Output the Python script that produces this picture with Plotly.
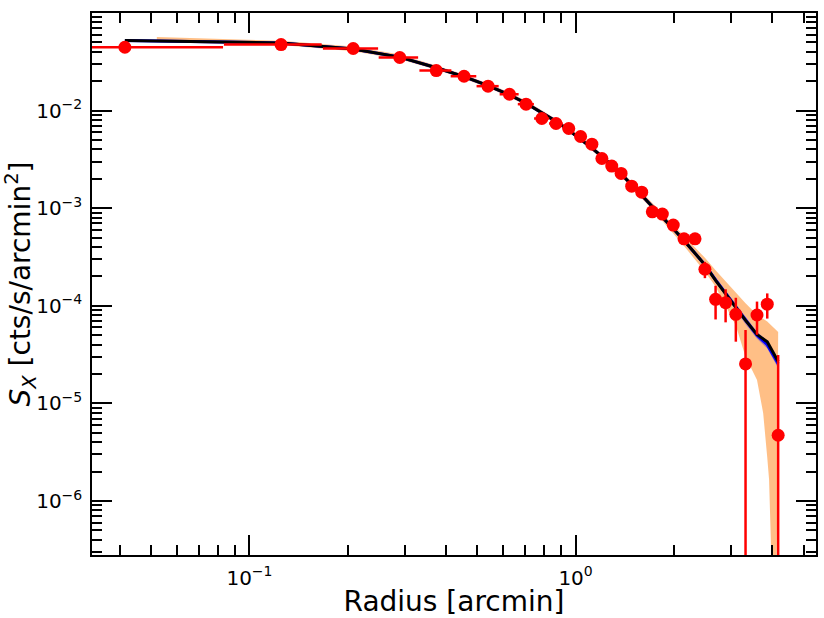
import numpy as np
import plotly.graph_objects as go

# ---------------- data ----------------
radius = [0.0415, 0.125, 0.208, 0.289, 0.374, 0.455, 0.539, 0.627, 0.705, 0.788,
          0.871, 0.953, 1.036, 1.122, 1.204, 1.291, 1.379, 1.486, 1.595, 1.719,
          1.845, 1.993, 2.15, 2.324, 2.492, 2.687, 2.884, 3.10, 3.32, 3.60, 3.87, 4.18]
sx = [0.0446, 0.0475, 0.0433, 0.0350, 0.0257, 0.0225, 0.0178, 0.0147, 0.01164, 0.0083,
      0.00738, 0.00656, 0.00543, 0.00453, 0.00323, 0.00270, 0.00227, 0.00168, 0.00146, 0.000919,
      0.000871, 0.000672, 0.000486, 0.000486, 0.000237, 0.0001165, 0.0001077, 8.19e-5, 2.54e-5,
      8.05e-5, 1.04e-4, 4.72e-6]
sx_err = [0.0010, 0.0009, 0.0008, 0.0007, 0.0006, 0.0005, 0.0004, 0.00035, 0.0003, 0.00025,
          0.00022, 0.0002, 0.00018, 0.00016, 0.00014, 0.00012, 0.00011, 9e-5, 8e-5, 7e-5,
          6.5e-5, 6e-5, 5.5e-5, 5e-5, 4.5e-5, 4.4e-5, 4.0e-5, 3.9e-5, 3.1e-5, 3.0e-5, 3.0e-5, 2.66e-5]
r_err_minus = [0.0413, 0.0415, 0.040, 0.040, 0.042, 0.041, 0.042, 0.042, 0.040, 0.042,
               0.042, 0.041, 0.042, 0.043, 0.041, 0.044, 0.044, 0.053, 0.055, 0.062,
               0.063, 0.074, 0.078, 0.085, 0.085, 0.097, 0.100, 0.110, 0.110, 0.140, 0.135, 0.155]
r_err_plus = [0.0415, 0.0415, 0.040, 0.040, 0.042, 0.041, 0.042, 0.042, 0.040, 0.042,
              0.042, 0.041, 0.042, 0.043, 0.041, 0.044, 0.044, 0.053, 0.055, 0.062,
              0.063, 0.074, 0.078, 0.085, 0.085, 0.097, 0.100, 0.110, 0.110, 0.140, 0.135, 0.155]

# best-fit model (black) and alternative model (blue)
model = [0.0522, 0.0493, 0.0427, 0.0353, 0.0275, 0.0223, 0.0180, 0.0145, 0.0119, 0.00955,
         0.00776, 0.00631, 0.00513, 0.00412, 0.00339, 0.00275, 0.00224, 0.00174, 0.00136, 0.00105,
         0.000813, 0.000617, 0.000468, 0.000347, 0.000263, 0.000182, 0.000132, 9.5e-5, 7.1e-5,
         5.1e-5, 4.27e-5, 2.69e-5]
model_blue = [0.0522, 0.0493, 0.0427, 0.0353, 0.0275, 0.0223, 0.0180, 0.0145, 0.0119, 0.00955,
              0.00776, 0.00631, 0.00513, 0.00412, 0.00339, 0.00275, 0.00224, 0.00174, 0.00136, 0.00105,
              0.000813, 0.000617, 0.000468, 0.000347, 0.000263, 0.000184, 0.000134, 9.6e-5, 7.0e-5,
              5.0e-5, 4.0e-5, 2.55e-5]
blue_dex = [0.012, 0.012, 0.012, 0.012, 0.012, 0.012, 0.012, 0.012, 0.012, 0.012,
            0.012, 0.012, 0.012, 0.012, 0.012, 0.013, 0.013, 0.014, 0.015, 0.016,
            0.017, 0.018, 0.020, 0.022, 0.024, 0.026, 0.028, 0.030, 0.033, 0.036, 0.040, 0.045]

# orange uncertainty envelope
band_r_up = [0.052] + radius[1:]
band_up = [0.0568, 0.0520, 0.0455, 0.0375, 0.0290, 0.0235, 0.0190, 0.0153, 0.0126, 0.0101,
           0.0082, 0.0067, 0.00545, 0.00438, 0.00360, 0.00293, 0.00240, 0.00188, 0.00147, 0.00115,
           0.00090, 0.00069, 0.000530, 0.000400, 0.000310, 0.000232, 0.000178, 0.000135, 0.000106,
           8.1e-5, 6.9e-5, 5.4e-5]
band_r_lo = [0.052] + radius[1:29] + [3.60, 3.76, 3.87, 3.92, 3.98, 4.02, 4.10, 4.16, 4.18]
band_lo = [0.0505, 0.0470, 0.0405, 0.0335, 0.0262, 0.0212, 0.0171, 0.0138, 0.0113, 0.0091,
           0.0074, 0.0060, 0.00487, 0.00390, 0.00320, 0.00259, 0.00210, 0.00162, 0.00126, 0.00097,
           0.00074, 0.00055, 0.000410, 0.000300, 0.000224, 0.000158, 0.000102, 6.3e-5, 3.0e-5,
           1.74e-5, 8e-6, 2.8e-6, 1.66e-6, 2.95e-7, 1e-8, 1e-8, 1.9e-6, 2.0e-5]

x_tickvals = [0.1, 1]
x_ticktext = ["10<sup>\u22121</sup>", "10<sup>0</sup>"]
y_tickvals = [1e-6, 1e-5, 1e-4, 1e-3, 1e-2, 1e-1]
y_ticktext = ["10<sup>\u22126</sup>", "10<sup>\u22125</sup>", "10<sup>\u22124</sup>",
              "10<sup>\u22123</sup>", "10<sup>\u22122</sup>", "10<sup>\u22121</sup>"]

# ---------------- figure ----------------
fig = go.Figure()

fig.add_trace(go.Scatter(
    x=band_r_up + band_r_lo[::-1], y=band_up + band_lo[::-1],
    fill="toself", fillcolor="rgba(255,127,14,0.5)", line=dict(width=0),
    mode="lines", hoverinfo="skip", showlegend=False))

mb = np.array(model_blue)
bd = np.array(blue_dex)
bhi = list(mb * 10 ** bd)
blo = list(mb * 10 ** (-bd))
fig.add_trace(go.Scatter(
    x=radius + radius[::-1], y=bhi + blo[::-1],
    fill="toself", fillcolor="rgba(0,0,255,0.3)", line=dict(width=0),
    mode="lines", hoverinfo="skip", showlegend=False))

fig.add_trace(go.Scatter(x=radius, y=model_blue, mode="lines",
                         line=dict(color="blue", width=3), showlegend=False))
fig.add_trace(go.Scatter(x=radius, y=model, mode="lines",
                         line=dict(color="black", width=3), showlegend=False))

fig.add_trace(go.Scatter(
    x=radius, y=sx, mode="markers",
    marker=dict(color="red", size=13, line=dict(width=0)),
    error_y=dict(type="data", array=sx_err, color="red", thickness=2.5, width=0),
    error_x=dict(type="data", array=r_err_plus, arrayminus=r_err_minus,
                 color="red", thickness=2.5, width=0),
    showlegend=False))

minor_x = [0.04, 0.05, 0.06, 0.07, 0.08, 0.09, 0.2, 0.3, 0.4, 0.5, 0.6, 0.7, 0.8, 0.9, 2, 3, 4, 5]
minor_y = [m * 10.0 ** e for e in range(-7, -1) for m in range(2, 10)]

axis_common = dict(
    type="log", showgrid=False, zeroline=False,
    showline=True, linecolor="black", linewidth=1.5, mirror="allticks",
    ticks="inside", ticklen=20, tickwidth=1.5, tickcolor="black",
    tickfont=dict(family="DejaVu Sans", size=20, color="black"),
)

fig.update_xaxes(
    **axis_common,
    range=[np.log10(0.0329), np.log10(5.46)],
    tickmode="array", tickvals=x_tickvals, ticktext=x_ticktext,
    ticklabelstandoff=4,
    minor=dict(tickmode="array", tickvals=minor_x, ticks="inside", ticklen=10,
               tickwidth=1.5, tickcolor="black", showgrid=False),
    title=dict(text="Radius [arcmin]", font=dict(family="DejaVu Sans", size=28, color="black"),
               standoff=0),
)
fig.update_yaxes(
    **axis_common,
    range=[-6.553, -1.0],
    tickmode="array", tickvals=y_tickvals, ticktext=y_ticktext,
    ticklabelstandoff=4,
    minor=dict(tickmode="array", tickvals=minor_y, ticks="inside", ticklen=10,
               tickwidth=1.5, tickcolor="black", showgrid=False),
    title=dict(text="<i>S</i><sub><i>X</i></sub> [cts/s/arcmin<sup>2</sup>]",
               font=dict(family="DejaVu Sans", size=28, color="black"), standoff=0),
)

fig.update_layout(
    width=824, height=618,
    margin=dict(l=92, r=6, t=13, b=63),
    plot_bgcolor="white", paper_bgcolor="white",
    showlegend=False,
)

fig.write_html("out.html")
